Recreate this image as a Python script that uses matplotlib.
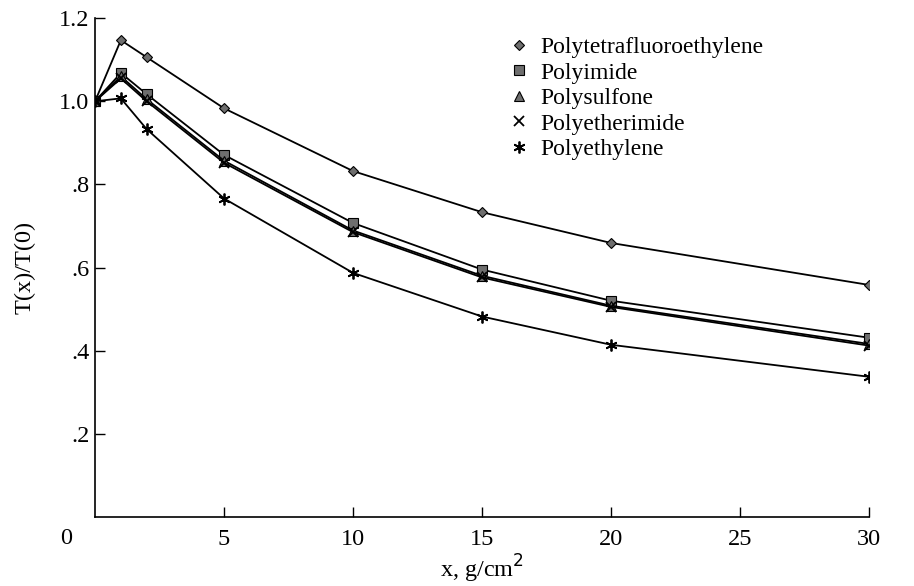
import matplotlib.pyplot as plt
from matplotlib.lines import Line2D

# data ------------------------------------------------------------ #
x_vals = [0, 1, 2, 5, 10, 15, 20, 30]

ptfe = [1.0, 1.147, 1.106, 0.983, 0.832, 0.733, 0.659, 0.558]
polyimide = [1.0, 1.068, 1.017, 0.871, 0.707, 0.595, 0.520, 0.431]
polysulfone = [1.0, 1.060, 1.005, 0.857, 0.689, 0.580, 0.508, 0.416]
polyetherimide = [1.0, 1.055, 1.000, 0.852, 0.685, 0.576, 0.505, 0.412]
polyethylene = [1.0, 1.007, 0.933, 0.766, 0.587, 0.482, 0.414, 0.337]

names = ["Polytetrafluoroethylene", "Polyimide", "Polysulfone",
         "Polyetherimide", "Polyethylene"]
y_ticks = [0.2, 0.4, 0.6, 0.8, 1.0, 1.2]
y_tick_labels = [".2", ".4", ".6", ".8", "1.0", "1.2"]
x_ticks = [5, 10, 15, 20, 25, 30]
x_tick_labels = ["5", "10", "15", "20", "25", "30"]
# ----------------------------------------------------------------- #

plt.rcParams['font.family'] = ['Liberation Serif', 'DejaVu Serif']

fig = plt.figure(figsize=(9.14, 5.86), dpi=100)
ax = fig.add_axes([0.104, 0.118, 0.847, 0.851])

grey = '#6e6e6e'
styles = [
    dict(marker='D', ms=5.5, mfc=grey, mec='black', mew=0.8),
    dict(marker='s', ms=6.5, mfc=grey, mec='black', mew=0.8),
    dict(marker='^', ms=7, mfc=grey, mec='black', mew=0.8),
    dict(marker='x', ms=6.5, mfc='black', mec='black', mew=1.3),
    dict(marker=(6, 2, 0), ms=8.5, mfc='black', mec='black', mew=1.3),
]
series = [ptfe, polyimide, polysulfone, polyetherimide, polyethylene]

for vals, st in zip(series, styles):
    ax.plot(x_vals, vals, color='black', lw=1.3, **st)

handles = [Line2D([], [], ls='none', **st) for st in styles]
ax.legend(handles, names, loc='upper left', bbox_to_anchor=(0.52, 0.982),
          frameon=False, fontsize=17, handlelength=1.0, handletextpad=0.4,
          labelspacing=0.17, borderaxespad=0)

ax.set_xlim(0, 30)
ax.set_ylim(0, 1.2)
ax.set_xticks(x_ticks)
ax.set_xticklabels(x_tick_labels)
ax.set_yticks(y_ticks)
ax.set_yticklabels(y_tick_labels)
ax.tick_params(direction='in', length=7, width=1, labelsize=17.5)
ax.tick_params(axis='x', pad=9)
ax.tick_params(axis='y', pad=4)
for s in ['top', 'right']:
    ax.spines[s].set_visible(False)
for s in ['left', 'bottom']:
    ax.spines[s].set_linewidth(1.2)

# shared origin label
ax.text(-0.03, -0.022, "0", transform=ax.transAxes, ha='right', va='top',
        fontsize=17.5)

ax.set_xlabel("x, g/cm$^2$", fontsize=17.5, labelpad=2)
ax.set_ylabel("T(x)/T(0)", fontsize=17.5, labelpad=17)

plt.savefig("out.png", dpi=100)
